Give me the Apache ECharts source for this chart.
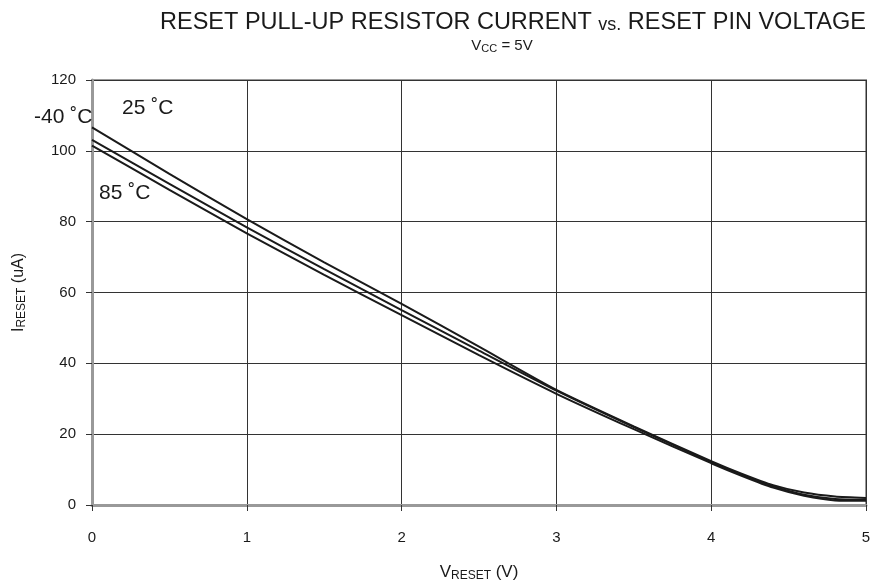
<!DOCTYPE html>
<html>
<head>
<meta charset="utf-8">
<script src="https://cdn.jsdelivr.net/npm/echarts@6/dist/echarts.min.js"></script>
<style>
html,body{margin:0;padding:0;background:#fff;}
#chart{width:875px;height:587px;}
</style>
</head>
<body>
<div id="chart"></div>
<script>
// Reset pin voltage (V) at which the current was sampled
const vReset = [0, 0.5, 1, 1.5, 2, 2.5, 3, 3.5, 4, 4.2, 4.4, 4.6, 4.8, 5];
// Pull-up current (uA) per temperature
const iMinus40 = [106.6, 93.5, 80.7, 68.5, 56.8, 44.7, 32.5, 22.2, 12.4, 8.8, 5.6, 3.5, 2.4, 2.0];
const i25      = [103.1, 90.7, 78.4, 66.6, 55.0, 43.6, 32.3, 22.0, 12.1, 8.5, 5.3, 2.9, 1.7, 1.5];
const i85      = [101.5, 89.0, 76.7, 65.0, 53.6, 42.3, 31.4, 21.4, 11.8, 8.2, 4.9, 2.6, 1.3, 1.2];
const xTicks = [0, 1, 2, 3, 4, 5];
const yTicks = [0, 20, 40, 60, 80, 100, 120];
const tempLabels = ['-40 ˚C', '25 ˚C', '85 ˚C'];

const FONT = '"Liberation Sans", Arial, sans-serif';
const pairs = arr => vReset.map((v, i) => [v, arr[i]]);
const lineSeries = (name, arr) => ({
  name, type: 'line', data: pairs(arr), showSymbol: false, smooth: 0.2,
  lineStyle: { color: '#1a1a1a', width: 2 }, z: 5
});

const chart = echarts.init(document.getElementById('chart'), null, { renderer: 'canvas' });
chart.setOption({
  backgroundColor: '#fff',
  animation: false,
  title: [{
    text: 'RESET PULL-UP RESISTOR CURRENT {s|vs.} RESET PIN VOLTAGE',
    left: 508, top: 6, textAlign: 'center',
    textStyle: { fontFamily: FONT, fontSize: 23.5, fontWeight: 'normal', color: '#1a1a1a',
      rich: { s: { fontFamily: FONT, fontSize: 18, color: '#1a1a1a', padding: [4, 0, 0, 0] } } }
  }, {
    text: 'V{sub|CC} = 5V',
    left: 497, top: 32, textAlign: 'center',
    textStyle: { fontFamily: FONT, fontSize: 15, fontWeight: 'normal', color: '#1a1a1a',
      rich: { sub: { fontFamily: FONT, fontSize: 11, color: '#1a1a1a', padding: [6, 0, 0, 0] } } }
  }],
  grid: { left: 92, right: 9, top: 80, bottom: 80, show: true, borderColor: '#999', borderWidth: 2, backgroundColor: 'transparent' },
  xAxis: {
    type: 'value', min: 0, max: 5, interval: 1,
    axisLine: { show: true, onZero: false, lineStyle: { color: '#999', width: 3 } },
    axisTick: { show: true, inside: false, length: 6, lineStyle: { color: '#333' } },
    axisLabel: { fontFamily: FONT, fontSize: 15, color: '#1a1a1a', margin: 25,
      formatter: v => xTicks.includes(v) ? String(v) : '' },
    splitLine: { show: true, lineStyle: { color: '#333', width: 1 } },
    name: 'V{sub|RESET} (V)', nameLocation: 'middle', nameGap: 57,
    nameTextStyle: { fontFamily: FONT, fontSize: 17, color: '#1a1a1a',
      rich: { sub: { fontFamily: FONT, fontSize: 12, color: '#1a1a1a', padding: [8, 0, 0, 0] } } }
  },
  yAxis: {
    type: 'value', min: 0, max: 120, interval: 20,
    axisLine: { show: true, onZero: false, lineStyle: { color: '#999', width: 3 } },
    axisTick: { show: true, inside: false, length: 6, lineStyle: { color: '#333' } },
    axisLabel: { fontFamily: FONT, fontSize: 15, color: '#1a1a1a', margin: 16,
      formatter: v => yTicks.includes(v) ? String(v) : '' },
    splitLine: { show: true, lineStyle: { color: '#333', width: 1 } },
    name: 'I{sub|RESET} (uA)', nameLocation: 'middle', nameGap: 64, nameRotate: 90,
    nameTextStyle: { fontFamily: FONT, fontSize: 16, color: '#1a1a1a',
      rich: { sub: { fontFamily: FONT, fontSize: 12, color: '#1a1a1a', padding: [7, 0, 0, 0] } } }
  },
  series: [
    lineSeries('-40', iMinus40),
    lineSeries('25', i25),
    lineSeries('85', i85)
  ],
  graphic: [
    { type: 'text', left: 34, top: 107, z: 10, style: { text: tempLabels[0], font: '21px ' + FONT, fill: '#1a1a1a' } },
    { type: 'text', left: 122, top: 98, z: 10, style: { text: tempLabels[1], font: '21px ' + FONT, fill: '#1a1a1a' } },
    { type: 'text', left: 99, top: 183, z: 10, style: { text: tempLabels[2], font: '21px ' + FONT, fill: '#1a1a1a' } }
  ]
});
</script>
</body>
</html>
